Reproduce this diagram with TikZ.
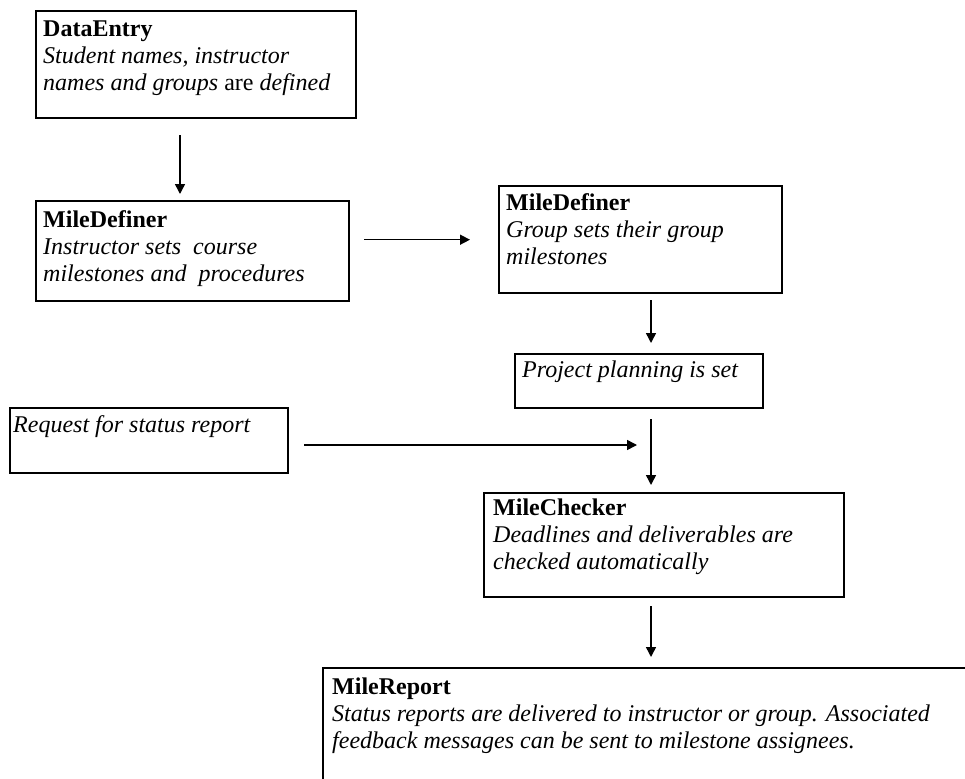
\documentclass[tikz,border=0pt]{standalone}
\usepackage{fontspec}
\setmainfont{Liberation Serif}
\usetikzlibrary{arrows.meta}
\tikzset{
  boxnode/.style={draw, line width=2.4pt, inner sep=0pt, anchor=north west},
  txt/.style={inner sep=0pt, anchor=north west, align=left, font=\fontsize{24}{27}\selectfont},
  arr/.style={line width=1.5pt, -{Triangle[length=10pt,width=10pt]}}
}
\begin{document}
\begin{tikzpicture}[x=1pt,y=-1pt]
\useasboundingbox (0,0) rectangle (965,778);
\clip (0,0) rectangle (965,778);
% boxes
\node[boxnode, minimum width=320, minimum height=107] (de) at (35,10) {};
\node[boxnode, minimum width=313, minimum height=100] (mda) at (35,200) {};
\node[boxnode, minimum width=283, minimum height=107] (mdb) at (498,185) {};
\node[boxnode, minimum width=248, minimum height=54] (pp) at (514,353) {};
\node[boxnode, minimum width=278, minimum height=65] (req) at (9,407) {};
\node[boxnode, minimum width=360, minimum height=104] (mc) at (483,492) {};
\node[boxnode, minimum width=660, minimum height=130] (mr) at (322,667) {};
% texts
\node[txt] (detx) at ([shift={(8,7)}]de.north west) {\strut\textbf{DataEntry}\\\textit{Student names, instructor}\\\textit{names and groups} are \textit{defined}};
\node[txt] (mdatx) at ([shift={(8,8)}]mda.north west) {\strut\textbf{MileDefiner}\\\textit{Instructor sets\ \ course}\\\textit{milestones and\ \ procedures}};
\node[txt] (mdbtx) at ([shift={(8,6)}]mdb.north west) {\strut\textbf{MileDefiner}\\\textit{Group sets their group}\\\textit{milestones}};
\node[txt] (pptx) at ([shift={(8,5)}]pp.north west) {\strut\textit{Project planning is set}};
\node[txt] (reqtx) at ([shift={(4,6)}]req.north west) {\strut\textit{Request for status report}};
\node[txt] (mctx) at ([shift={(10,4)}]mc.north west) {\strut\textbf{MileChecker}\\\textit{Deadlines and deliverables are}\\\textit{checked automatically}};
\node[txt] (mrtx) at ([shift={(10,8)}]mr.north west) {\strut\textbf{MileReport}\\\textit{Status reports are delivered to instructor or group. Associated}\\\textit{feedback messages can be sent to milestone assignees.}};
% connectors
\coordinate (xa) at ([xshift=145]de.south west);
\draw[arr, shorten <=16pt, shorten >=6pt] (xa) -- (xa |- mda.north);
\draw[arr, shorten <=14pt, shorten >=28pt] (mda.east |- mdb.west) -- (mdb.west);
\coordinate (xb) at ([xshift=153]mdb.south west);
\draw[arr, shorten <=6pt, shorten >=10pt] (xb) -- (xb |- pp.north);
\draw[arr, shorten <=10pt, shorten >=7pt] (xb |- pp.south) -- (xb |- mc.north);
\coordinate (jn) at (651,445);
\draw[arr, shorten <=15pt, shorten >=14pt] (req.east |- jn) -- (jn);
\draw[arr, shorten <=8pt, shorten >=10pt] (xb |- mc.south) -- (xb |- mr.north);
\end{tikzpicture}
\end{document}
